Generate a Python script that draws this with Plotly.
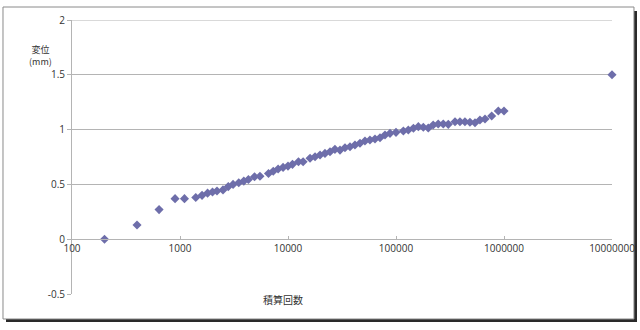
import plotly.graph_objects as go

# 積算回数 (cumulative count)
counts = [200, 400, 640, 900, 1100,
          1400, 1600, 1800, 2000, 2200, 2500, 2800, 3100, 3500, 3900,
          4300, 4900, 5500, 6600, 7300, 8100, 9000, 10000, 11000, 12500,
          13800, 16000, 17800, 19800, 22000, 24500, 27200, 30300, 33700, 37500,
          41700, 46400, 51600, 57400, 63900, 71100, 79100, 88000, 100000, 117000,
          130000, 145000, 161000, 179000, 199000, 221000, 246000, 274000, 305000, 352000,
          391000, 435000, 484000, 539000, 599000, 667000, 769000, 886000, 1000000,
          10000000]
# 変位 (mm)
displacement = [0.00, 0.13, 0.27, 0.37, 0.37,
                0.38, 0.40, 0.42, 0.43, 0.44, 0.45, 0.48, 0.50, 0.515, 0.53,
                0.545, 0.57, 0.575, 0.60, 0.62, 0.64, 0.655, 0.667, 0.683, 0.707,
                0.707, 0.738, 0.752, 0.768, 0.783, 0.798, 0.82, 0.813, 0.835, 0.844,
                0.859, 0.875, 0.896, 0.905, 0.914, 0.926, 0.951, 0.966, 0.975, 0.987,
                0.996, 1.012, 1.027, 1.021, 1.015, 1.042, 1.051, 1.051, 1.048, 1.072,
                1.072, 1.072, 1.067, 1.063, 1.088, 1.097, 1.124, 1.17, 1.17,
                1.5]

x_tickvals = [100, 1000, 10000, 100000, 1000000, 10000000]
x_ticktext = ["100", "1000", "10000", "100000", "1000000", "10000000"]
y_tickvals = [-0.5, 0, 0.5, 1, 1.5, 2]
y_ticktext = ["-0.5", "0", "0.5", "1", "1.5", "2"]
y_max = 2

FONT = "Open Sans"
GRID = "#b4b4b4"

fig = go.Figure()
fig.add_trace(go.Scatter(
    x=counts, y=displacement, mode="markers",
    marker=dict(symbol="diamond", size=7, color="#6e6eaa", line=dict(width=0)),
    cliponaxis=False, showlegend=False, hoverinfo="skip"))

shapes = [
    # drop shadow of frame
    dict(type="rect", xref="paper", yref="paper", layer="below",
         x0=-0.1222, x1=1.0463, y0=-0.1022, y1=1.0328,
         fillcolor="#2a2a2a", line=dict(width=0)),
    # frame
    dict(type="rect", xref="paper", yref="paper", layer="below",
         x0=-0.1278, x1=1.0407, y0=-0.0912, y1=1.0474,
         fillcolor="white", line=dict(color="#8a8a8a", width=1)),
    # top gridline (at the range edge)
    dict(type="line", xref="paper", yref="y", layer="below",
         x0=0, x1=1, y0=y_max, y1=y_max, line=dict(color=GRID, width=1)),
]

fig.update_layout(
    width=640, height=330,
    margin=dict(l=72, r=28, t=20, b=36, autoexpand=False),
    paper_bgcolor="white", plot_bgcolor="rgba(0,0,0,0)",
    font=dict(family=FONT, size=10, color="#333333"),
    shapes=shapes,
    xaxis=dict(type="log", range=[2, 7], tickvals=x_tickvals, ticktext=x_ticktext,
               showgrid=False, zeroline=False, showline=True, linecolor=GRID, linewidth=1,
               ticks="inside", ticklen=3, tickcolor=GRID, automargin=False,
               anchor="free", position=0.2, tickfont=dict(size=10, color="#333333")),
    yaxis=dict(range=[-0.5, 2], tickvals=y_tickvals, ticktext=y_ticktext,
               showgrid=True, gridcolor=GRID, gridwidth=1, zeroline=False,
               showline=True, linecolor=GRID, linewidth=1, automargin=False,
               ticks="outside", ticklen=4, tickcolor=GRID,
               tickfont=dict(size=10, color="#333333")),
    annotations=[
        dict(text="変位<br>(mm)", x=-0.0815, y=0.9215, xref="paper", yref="paper",
             showarrow=False, borderpad=0, align="center",
             font=dict(family="Noto Sans CJK JP", size=9, color="#333333")),
        dict(text="積算回数", x=0.391, y=-0.055, xref="paper", yref="paper",
             showarrow=False,
             font=dict(family="Noto Sans CJK JP", size=10, color="#333333")),
    ],
)

fig.write_html("out.html")
